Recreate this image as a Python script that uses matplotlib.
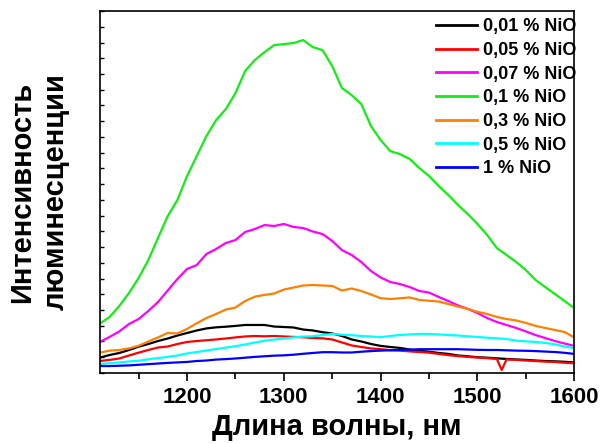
import numpy as np
import matplotlib
matplotlib.use('Agg')
import matplotlib.pyplot as plt
from matplotlib.ticker import MultipleLocator, NullFormatter

plt.rcParams['font.family'] = ['Liberation Sans', 'DejaVu Sans']
plt.rcParams['font.weight'] = 'bold'

# ===== data (arbitrary intensity units)
wavelength = np.arange(1110, 1601, 10)

int_001 = [0.98, 1.14, 1.27, 1.46, 1.67, 1.84, 2.03, 2.19, 2.38, 2.54,
           2.70, 2.83, 2.90, 2.94, 2.99, 3.05, 3.05, 3.05, 2.95, 2.92,
           2.89, 2.76, 2.70, 2.59, 2.51, 2.35, 2.13, 2.00, 1.84, 1.72,
           1.65, 1.59, 1.49, 1.41, 1.35, 1.27, 1.21, 1.11, 1.06, 1.00,
           0.97, 0.93, 0.89, 0.86, 0.83, 0.79, 0.76, 0.74, 0.71, 0.67]

wavelength_005 = [1110, 1120, 1130, 1140, 1150, 1160, 1170, 1180, 1190, 1200,
                  1210, 1220, 1230, 1240, 1250, 1260, 1270, 1280, 1290, 1300,
                  1310, 1320, 1330, 1340, 1350, 1360, 1370, 1380, 1390, 1400,
                  1410, 1420, 1430, 1440, 1450, 1460, 1470, 1480, 1490, 1500,
                  1510, 1520, 1525, 1530, 1540, 1550, 1560, 1570, 1580, 1590, 1600]
int_005 = [0.76, 0.83, 0.92, 1.11, 1.29, 1.46, 1.62, 1.68, 1.84, 1.97,
           2.03, 2.08, 2.13, 2.19, 2.26, 2.32, 2.35, 2.33, 2.35, 2.32,
           2.29, 2.27, 2.22, 2.20, 2.13, 1.94, 1.75, 1.65, 1.56, 1.51,
           1.45, 1.42, 1.37, 1.33, 1.29, 1.21, 1.13, 1.07, 1.02, 0.98,
           0.94, 0.89, 0.19, 0.86, 0.83, 0.79, 0.76, 0.72, 0.70, 0.65, 0.62]

int_007 = [1.97, 2.29, 2.64, 3.11, 3.43, 3.94, 4.51, 5.24, 5.97, 6.61,
           6.86, 7.56, 7.88, 8.26, 8.45, 8.96, 9.15, 9.40, 9.34, 9.47,
           9.28, 9.21, 8.99, 8.83, 8.39, 7.81, 7.50, 7.05, 6.48, 6.07,
           5.78, 5.65, 5.46, 5.21, 5.11, 4.83, 4.57, 4.29, 4.07, 3.81,
           3.49, 3.24, 3.05, 2.86, 2.64, 2.41, 2.22, 2.03, 1.87, 1.72]

int_01 = [3.14, 3.56, 4.26, 5.08, 6.04, 7.18, 8.58, 9.97, 10.99, 12.52,
          13.79, 15.06, 16.07, 16.77, 17.79, 19.19, 19.89, 20.39, 20.84, 20.90,
          20.97, 21.16, 20.71, 20.52, 19.50, 18.11, 17.66, 17.09, 15.69, 14.80,
          14.10, 13.91, 13.60, 13.02, 12.52, 11.88, 11.31, 10.67, 10.10, 9.47,
          8.77, 7.94, 7.50, 7.05, 6.54, 5.91, 5.46, 5.02, 4.57, 4.13]

int_03 = [1.29, 1.42, 1.46, 1.56, 1.73, 2.00, 2.26, 2.54, 2.51, 2.80,
          3.16, 3.49, 3.75, 4.03, 4.16, 4.57, 4.85, 4.96, 5.05, 5.30,
          5.43, 5.56, 5.59, 5.56, 5.53, 5.24, 5.37, 5.21, 4.99, 4.75,
          4.70, 4.75, 4.80, 4.64, 4.59, 4.54, 4.38, 4.22, 4.07, 3.88,
          3.75, 3.56, 3.43, 3.34, 3.18, 2.99, 2.86, 2.73, 2.60, 2.26]

int_05 = [0.57, 0.62, 0.67, 0.73, 0.78, 0.87, 0.95, 1.02, 1.11, 1.24,
          1.33, 1.43, 1.52, 1.61, 1.70, 1.81, 1.93, 2.05, 2.12, 2.19,
          2.26, 2.31, 2.33, 2.41, 2.48, 2.43, 2.40, 2.35, 2.32, 2.27,
          2.35, 2.41, 2.45, 2.48, 2.48, 2.45, 2.41, 2.38, 2.33, 2.29,
          2.24, 2.20, 2.16, 2.06, 2.01, 1.97, 1.91, 1.82, 1.68, 1.57]

int_1 = [0.44, 0.44, 0.46, 0.48, 0.52, 0.56, 0.60, 0.64, 0.67, 0.70,
         0.76, 0.79, 0.85, 0.88, 0.92, 0.97, 1.02, 1.06, 1.10, 1.12,
         1.16, 1.22, 1.27, 1.32, 1.32, 1.30, 1.30, 1.35, 1.39, 1.42,
         1.44, 1.46, 1.48, 1.51, 1.51, 1.51, 1.51, 1.51, 1.49, 1.47,
         1.46, 1.46, 1.44, 1.42, 1.41, 1.39, 1.36, 1.33, 1.28, 1.21]

labels = ['0,01 % NiO', '0,05 % NiO', '0,07 % NiO', '0,1 % NiO',
          '0,3 % NiO', '0,5 % NiO', '1 % NiO']
colors = ['black', '#ff0000', '#ff00ff', '#11ee11', '#ff8000', '#00ffff', '#0000ff']

series = [(wavelength, int_001), (wavelength_005, int_005), (wavelength, int_007),
          (wavelength, int_01), (wavelength, int_03), (wavelength, int_05),
          (wavelength, int_1)]

# ===== plotting
fig = plt.figure(figsize=(6.02, 4.44), dpi=100)
ax = fig.add_axes([0.166, 0.16, 0.788, 0.815])

for (x, y), lab, col in zip(series, labels, colors):
    ax.plot(x, y, color=col, lw=1.6, label=lab)

ax.set_xlim(1110, 1600)
ax.set_ylim(0, 23)
ax.xaxis.set_major_locator(MultipleLocator(100))
ax.xaxis.set_minor_locator(MultipleLocator(50))
ax.yaxis.set_major_locator(MultipleLocator(1))
ax.yaxis.set_major_formatter(NullFormatter())
ax.tick_params(axis='x', which='major', direction='out', length=6, width=1.2,
               labelsize=16, pad=4)
ax.tick_params(axis='x', which='minor', direction='out', length=4, width=1.2)
ax.tick_params(axis='y', which='major', direction='in', length=3, width=1.0)
for lbl in ax.get_xticklabels():
    lbl.set_fontweight('bold')
for sp in ax.spines.values():
    sp.set_linewidth(1.2)

ax.set_xlabel('Длина волны, нм', fontsize=21, fontweight='bold', labelpad=4)
ax.set_ylabel('Интенсивность\nлюминесценции', fontsize=21, fontweight='bold',
              labelpad=18, linespacing=1.25)

leg = ax.legend(loc='upper right', bbox_to_anchor=(1.019, 1.0), frameon=False,
                prop={'size': 13, 'weight': 'bold'}, handlelength=2.3,
                handletextpad=0.3, labelspacing=0.37, borderpad=0.4,
                borderaxespad=0.0)
for line in leg.get_lines():
    line.set_linewidth(2.0)

fig.savefig('out.png', dpi=100)
